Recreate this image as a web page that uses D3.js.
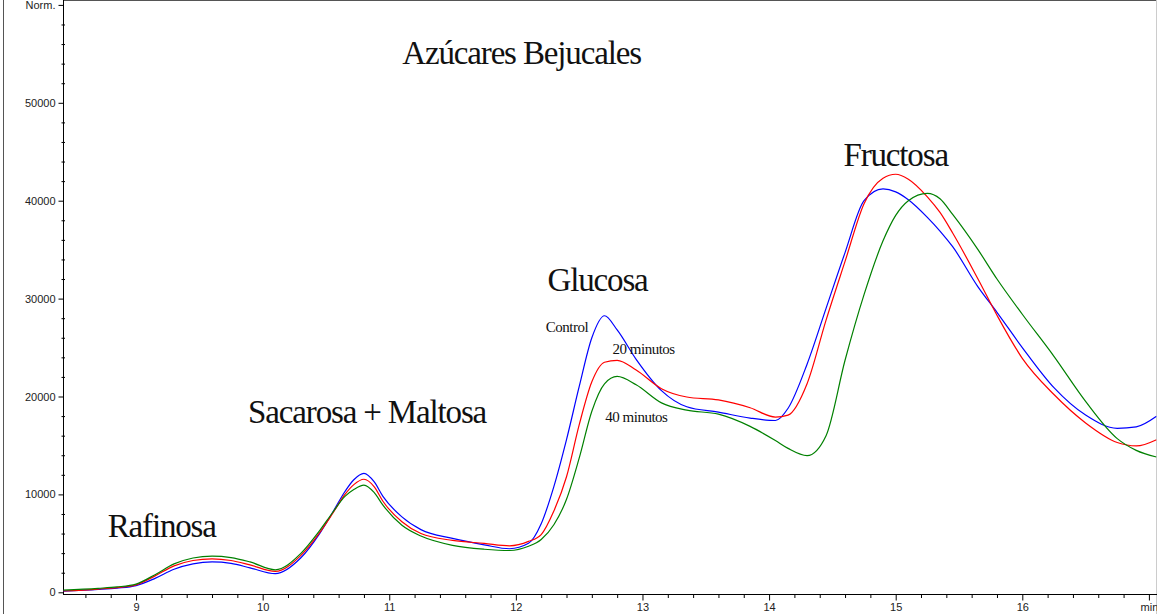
<!DOCTYPE html>
<html>
<head>
<meta charset="utf-8">
<script src="https://cdn.jsdelivr.net/npm/d3@7"></script>
<style>
  html, body { margin: 0; padding: 0; background: #fff; }
  svg { display: block; }
  .tick text { font-family: "Liberation Sans", Arial, sans-serif; font-size: 11px; fill: #222; }
  .peak { font-family: "Liberation Serif", "Times New Roman", serif; font-size: 33px; letter-spacing: -1.15px; fill: #111; }
  .trace-label { font-family: "Liberation Serif", "Times New Roman", serif; font-size: 15px; letter-spacing: -0.5px; fill: #111; }
</style>
</head>
<body>
<svg id="chart" width="1157" height="614"></svg>
<script>
// Retention time grid (min) shared by the three chromatograms
const retentionTime = [8.42, 8.7, 8.85, 9.0, 9.15, 9.3, 9.45, 9.6, 9.75, 9.9, 10.1, 10.3, 10.45, 10.55, 10.65, 10.72, 10.8,
  10.88, 10.95, 11.1, 11.25, 11.5, 11.75, 11.95, 12.1, 12.2, 12.3, 12.4, 12.5, 12.6, 12.7, 12.8, 12.95, 13.15, 13.35,
  13.6, 13.85, 14.05, 14.15, 14.3, 14.45, 14.6, 14.75, 14.9, 15.0, 15.1, 15.25, 15.35, 15.45, 15.65, 15.8, 16.0, 16.25,
  16.5, 16.75, 16.9, 17.06];

// Detector response (Norm.)
const controlSignal = [110, 290, 430, 680, 1420, 2350, 2900, 3100, 2950, 2500, 1900, 3500, 6000, 8100, 10300, 11500, 12150,
  11300, 9800, 7700, 6400, 5500, 4850, 4450, 5000, 7000, 10800, 15600, 21000, 26000, 28250, 26800, 23800, 20600, 18950,
  18400, 17800, 17550, 18800, 23300, 29000, 34700, 40000, 41200, 40900, 40100, 38300, 36900, 35300, 31200, 28600, 25000,
  20900, 18100, 16750, 16900, 17980];

const min20Signal = [130, 330, 480, 760, 1680, 2700, 3250, 3420, 3250, 2800, 2130, 3750, 6100, 8000, 10000, 11000, 11550,
  10800, 9300, 7200, 6000, 5300, 5000, 4750, 5200, 5900, 8300, 11800, 17100, 21500, 23500, 23700, 22700, 20800, 19950,
  19650, 18850, 17900, 18100, 21300, 27800, 33800, 39700, 42300, 42700, 42200, 40400, 38800, 36700, 32000, 28300, 23900,
  20200, 17300, 15300, 14950, 15590];

const min40Signal = [220, 410, 550, 840, 1800, 2900, 3500, 3700, 3550, 3100, 2300, 3950, 6300, 8100, 9800, 10500, 10950,
  10200, 8900, 6850, 5750, 4800, 4400, 4270, 4700, 5400, 6900, 9500, 13700, 18500, 21300, 22050, 21200, 19350, 18600,
  18200, 16950, 15500, 14700, 13960, 16000, 23700, 30400, 35900, 38500, 40000, 40750, 40200, 38600, 35000, 32000, 28400,
  24100, 19500, 15700, 14500, 13820];

const seriesNames = ["Control", "20 minutos", "40 minutos"];
const seriesColors = ["#0000ff", "#ff0000", "#008000"];

// Axis ticks
const xMajorTicks = [9, 10, 11, 12, 13, 14, 15, 16, 17];
const xTickLabels = ["9", "10", "11", "12", "13", "14", "15", "16", "min"];
const yMajorTicks = [0, 10000, 20000, 30000, 40000, 50000, 60000];
const yTickLabels = ["0", "10000", "20000", "30000", "40000", "50000", "Norm."];

// Text annotations anchored in data space (time, response)
const peakNames = ["Azúcares Bejucales", "Fructosa", "Glucosa", "Sacarosa + Maltosa", "Rafinosa"];
const peakTimes = [12.045, 15.0, 12.645, 10.825, 9.203];
const peakLevels = [53960, 43540, 30780, 17290, 5680];
const traceTimes = [12.404, 13.009, 12.952];
const traceLevels = [26590, 24340, 17400];

const W = 1157, H = 614;
const svg = d3.select("#chart");

const x = d3.scaleLinear().domain([8.423, 17.06]).range([63, 1156.5]);
const y = d3.scaleLinear().domain([0, 60000]).range([592.3, 4.9]);
const xAxisY = 594.5;

// frame
svg.append("line").attr("x1", 3.5).attr("x2", 3.5).attr("y1", 0).attr("y2", H)
  .attr("stroke", "#555").attr("stroke-width", 1);
svg.append("line").attr("x1", 63).attr("x2", W).attr("y1", 0.5).attr("y2", 0.5)
  .attr("stroke", "#555").attr("stroke-width", 1);
svg.append("line").attr("x1", W - 0.5).attr("x2", W - 0.5).attr("y1", 0).attr("y2", H)
  .attr("stroke", "#ccc").attr("stroke-width", 1);

// clip for traces
svg.append("clipPath").attr("id", "plot-clip").append("rect")
  .attr("x", 63.5).attr("y", 0).attr("width", W - 64).attr("height", xAxisY);

// y axis
const yAxis = d3.axisLeft(y).tickValues(yMajorTicks)
  .tickFormat((d, i) => yTickLabels[i]).tickSize(5).tickPadding(3);
const gy = svg.append("g").attr("transform", "translate(63.5,0)").call(yAxis);
gy.select(".domain").attr("d", `M0,0V${xAxisY}`);
const yMinor = d3.range(0, 60001, 2000).filter(v => v % 10000 !== 0);
gy.selectAll(".minor").data(yMinor).enter().append("line")
  .attr("class", "minor").attr("x1", -2).attr("x2", 1.5)
  .attr("y1", d => y(d) + 0.5).attr("y2", d => y(d) + 0.5).attr("stroke", "#000");

// x axis
const xAxis = d3.axisBottom(x).tickValues(xMajorTicks)
  .tickFormat((d, i) => xTickLabels[i]).tickSize(6).tickPadding(3);
const gx = svg.append("g").attr("transform", `translate(0,${xAxisY})`).call(xAxis);
gx.select(".domain").attr("d", `M63,0H${W}`);
const xMinor = d3.range(8.6, 17.05, 0.2).map(v => Math.round(v * 10) / 10)
  .filter(v => Math.abs(v - Math.round(v)) > 0.01);
gx.selectAll(".minor").data(xMinor).enter().append("line")
  .attr("class", "minor").attr("x1", d => x(d) + 0.5).attr("x2", d => x(d) + 0.5)
  .attr("y1", 0).attr("y2", 3.5).attr("stroke", "#000");
svg.selectAll(".domain").attr("stroke", "#000");

// traces
const signals = [controlSignal, min20Signal, min40Signal];
const line = d3.line()
  .x((d, i) => x(retentionTime[i]))
  .y(d => y(d))
  .curve(d3.curveMonotoneX);

svg.append("g").attr("clip-path", "url(#plot-clip)")
  .selectAll("path").data(signals).enter().append("path")
  .attr("d", line)
  .attr("fill", "none")
  .attr("stroke", (d, i) => seriesColors[i])
  .attr("stroke-width", 1.2);

// peak names and title
svg.selectAll(".peak").data(peakNames).enter().append("text")
  .attr("class", "peak")
  .attr("x", (d, i) => x(peakTimes[i]))
  .attr("y", (d, i) => y(peakLevels[i]))
  .attr("text-anchor", "middle")
  .text(d => d);

// trace names
svg.selectAll(".trace-label").data(seriesNames).enter().append("text")
  .attr("class", "trace-label")
  .attr("x", (d, i) => x(traceTimes[i]))
  .attr("y", (d, i) => y(traceLevels[i]))
  .attr("text-anchor", "middle")
  .text(d => d);
</script>
</body>
</html>
